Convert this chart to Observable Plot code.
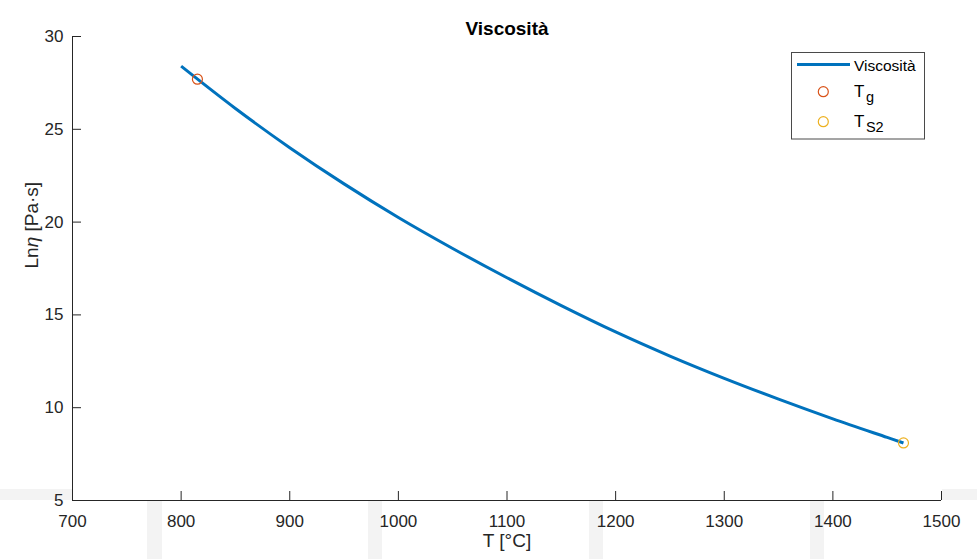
<!DOCTYPE html>
<html><head><meta charset="utf-8">
<script src="https://cdn.jsdelivr.net/npm/d3@7"></script>
<script src="https://cdn.jsdelivr.net/npm/@observablehq/plot@0.6"></script>
<style>
html,body{margin:0;padding:0;background:#fff;}
#wrap{position:relative;width:977px;height:559px;overflow:hidden;}
.bg{position:absolute;background:#f3f3f3;}
#chart{position:absolute;left:0;top:0;}
</style></head><body>
<div id="wrap">
  <div class="bg" style="left:0;top:489px;width:72px;height:11px"></div>
  <div class="bg" style="left:942px;top:489px;width:35px;height:11px"></div>
  <div class="bg" style="left:147px;top:500px;width:15px;height:59px"></div>
  <div class="bg" style="left:368px;top:500px;width:14px;height:59px"></div>
  <div class="bg" style="left:589px;top:500px;width:14px;height:59px"></div>
  <div class="bg" style="left:810px;top:500px;width:14px;height:59px"></div>
  <div id="chart"></div>
</div>
<script>
// Curve data
const temperature = [800, 850, 900, 950, 1000, 1050, 1100, 1150, 1200, 1250, 1300, 1350, 1400, 1450, 1465];
const lnViscosity = [28.4, 26.12, 24.01, 22.06, 20.25, 18.58, 17.0, 15.5, 14.08, 12.78, 11.58, 10.46, 9.4, 8.4, 8.1];

// Characteristic points
const markerNames = ["Tg", "TS2"];
const markerT = [815, 1465];
const markerLn = [27.7, 8.1];
const markerColors = ["#D95319", "#EDB120"];
const lineColor = "#0072BD";

// Ticks and texts
const xTicks = [700, 800, 900, 1000, 1100, 1200, 1300, 1400, 1500];
const yTicks = [5, 10, 15, 20, 25, 30];
const titleText = "Viscosità";
const xLabel = "T [°C]";
const yLabel = "Lnη [Pa·s]";
const legendLabels = ["Viscosità", "T", "T"];
const legendSubs = [null, "g", "S2"];

const curve = temperature.map((t, i) => ({T: t, ln: lnViscosity[i]}));
const markers = markerNames.map((n, i) => ({name: n, T: markerT[i], ln: markerLn[i]}));

const ink = "#262626";
const plot = Plot.plot({
  width: 977,
  height: 559,
  marginLeft: 72,
  marginRight: 36,
  marginTop: 36,
  marginBottom: 59,
  style: {fontFamily: "'Liberation Sans', Arial, sans-serif", color: ink, background: "transparent"},
  x: {domain: [700, 1500]},
  y: {domain: [5, 30]},
  color: {domain: markerNames, range: markerColors},
  marks: [
    Plot.ruleX([700], {stroke: ink}),
    Plot.ruleY([5], {stroke: ink}),
    Plot.tickX(xTicks, {x: d => d, insetTop: 455, stroke: ink}),
    Plot.tickY(yTicks, {y: d => d, insetRight: 860, stroke: ink}),
    Plot.axisX({ticks: xTicks, tickSize: 0, tickPadding: 14, fontSize: 17, label: null, tickFormat: d => String(d)}),
    Plot.axisY({ticks: yTicks, tickSize: 0, tickPadding: 9, fontSize: 17, label: null, tickFormat: d => String(d)}),
    Plot.line(curve, {x: "T", y: "ln", stroke: lineColor, strokeWidth: 3, curve: "catmull-rom", strokeLinecap: "butt"}),
    Plot.dot(markers, {x: "T", y: "ln", r: 5, stroke: "name", fill: "none", strokeWidth: 1.2}),
    Plot.text([titleText], {text: d => d, frameAnchor: "top", dy: -15, fontSize: 19, fontWeight: "bold", fill: "black"}),
    Plot.text([xLabel], {text: d => d, frameAnchor: "bottom", dy: 46.5, fontSize: 19, fill: ink}),
    Plot.text([yLabel], {text: d => d, frameAnchor: "left", dx: -41, rotate: -90, fontSize: 19, fill: ink})
  ]
});
document.getElementById("chart").appendChild(plot);

// Italic eta in y label
const svg = d3.select(plot);
svg.selectAll("text").filter(function() { return this.textContent === yLabel; }).each(function() {
  const t = d3.select(this);
  t.text(null);
  t.append("tspan").text("Ln");
  t.append("tspan").attr("font-style", "italic").text("η");
  t.append("tspan").text(" [Pa·s]");
});

// Legend
const lg = svg.append("g")
  .attr("font-family", "'Liberation Sans', Arial, sans-serif")
  .attr("fill", "black")
  .attr("text-anchor", "start");
lg.append("rect").attr("x", 791.5).attr("y", 52.5).attr("width", 133).attr("height", 86.5)
  .attr("fill", "white").attr("stroke", "#4a4a4a").attr("stroke-width", 1);
const rowY = [64.5, 91.7, 121.7];
lg.append("line").attr("x1", 797).attr("x2", 850).attr("y1", rowY[0]).attr("y2", rowY[0])
  .attr("stroke", lineColor).attr("stroke-width", 3);
markerNames.forEach((n, i) => {
  lg.append("circle").attr("cx", 823.3).attr("cy", rowY[i + 1]).attr("r", 5)
    .attr("fill", "none").attr("stroke", markerColors[i]).attr("stroke-width", 1.2);
});
legendLabels.forEach((lab, i) => {
  const base = i === 0 ? 70.5 : rowY[i] + 5;
  const t = lg.append("text").attr("x", 854).attr("y", base)
    .attr("text-anchor", "start");
  t.append("tspan").attr("font-size", i === 0 ? 15.5 : 17).text(lab);
  if (legendSubs[i]) {
    t.append("tspan").attr("dx", 1.5).attr("dy", 5.7).attr("font-size", 14.5).text(legendSubs[i]);
  }
});
</script>
</body></html>
